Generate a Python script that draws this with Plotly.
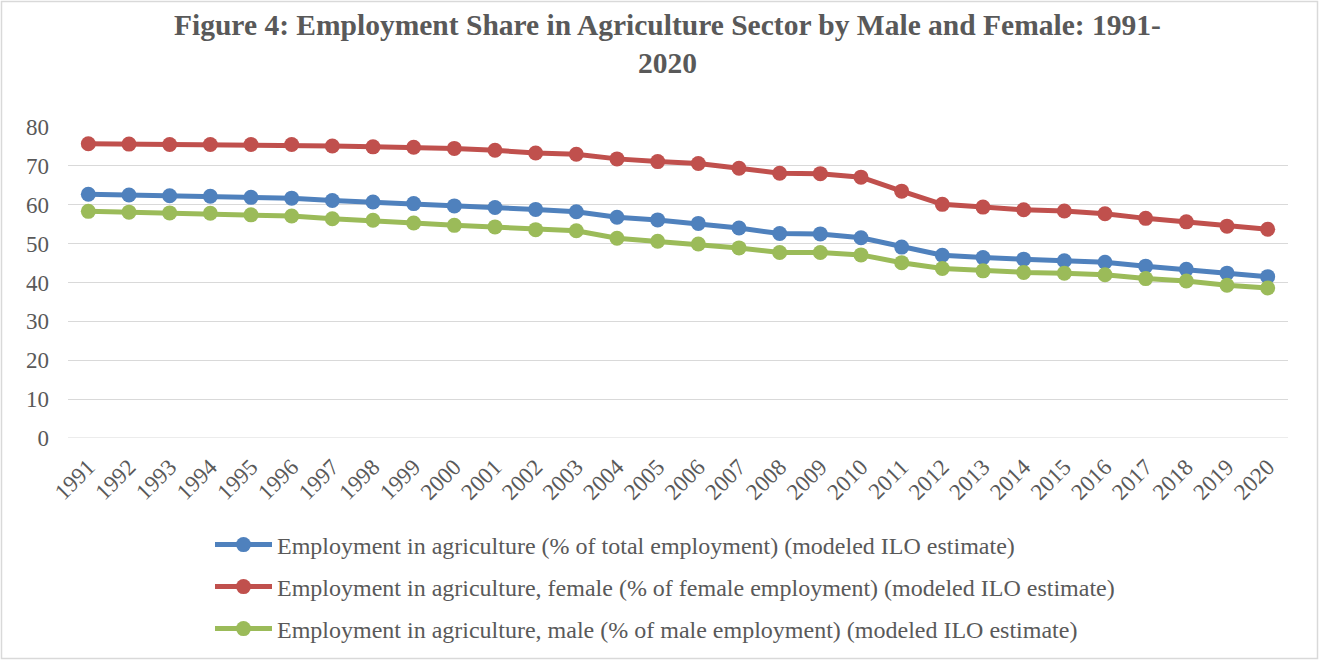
import plotly.graph_objects as go

years = [str(y) for y in range(1991, 2021)]
total = [62.7, 62.5, 62.3, 62.2, 61.9, 61.7, 61.1, 60.7, 60.3, 59.7, 59.3, 58.8, 58.2, 56.8, 56.1,
         55.2, 54.0, 52.6, 52.5, 51.5, 49.1, 47.0, 46.4, 46.0, 45.6, 45.2, 44.2, 43.4, 42.4, 41.5]
female = [75.7, 75.6, 75.5, 75.5, 75.5, 75.5, 75.1, 74.9, 74.8, 74.5, 74.0, 73.3, 73.0, 71.8, 71.1,
          70.6, 69.4, 68.1, 68.0, 67.1, 63.5, 60.1, 59.4, 58.7, 58.4, 57.7, 56.5, 55.6, 54.5, 53.7]
male = [58.3, 58.1, 57.9, 57.8, 57.4, 57.1, 56.4, 56.0, 55.3, 54.7, 54.3, 53.6, 53.3, 51.4, 50.6,
        49.9, 48.9, 47.7, 47.7, 47.1, 45.1, 43.6, 43.0, 42.6, 42.4, 42.0, 41.0, 40.4, 39.3, 38.6]
names = ["Employment in agriculture (% of total employment) (modeled ILO estimate)",
         "Employment in agriculture, female (% of female employment) (modeled ILO estimate)",
         "Employment in agriculture, male (% of male employment) (modeled ILO estimate)"]
colors = ["#4F81BD", "#C0504D", "#9BBB59"]
y_ticks = [0, 10, 20, 30, 40, 50, 60, 70, 80]

W, H = 1319, 660
L, R, T, B = 68, 31, 127, 222
pw, ph = W - L - R, H - T - B

def px_x(x):
    return (x - L) / pw

def px_y(y):
    return (H - B - y) / ph

fig = go.Figure()
legend_names = ["legend", "legend2", "legend3"]
legend_rows = [545, 587, 629]
for i, (vals, nm, col) in enumerate(zip([total, female, male], names, colors)):
    fig.add_trace(go.Scatter(
        x=years, y=vals, name=nm, mode="lines+markers",
        line=dict(color=col, width=5),
        marker=dict(color=col, size=15),
        legend=legend_names[i],
    ))

font_family = "Liberation Serif"
legend_common = dict(
    orientation="v", xanchor="left", yanchor="middle",
    font=dict(family=font_family, size=24, color="#595959"),
    bgcolor="rgba(0,0,0,0)", itemwidth=57, borderwidth=0,
)
layout_legends = {}
for ln, row in zip(legend_names, legend_rows):
    layout_legends[ln] = dict(legend_common, x=px_x(210), y=px_y(row))

fig.update_layout(
    width=W, height=H,
    margin=dict(l=L, r=R, t=T, b=B, autoexpand=False),
    paper_bgcolor="white", plot_bgcolor="white",
    font=dict(family=font_family, color="#595959"),
    title=dict(
        text="<b>Figure 4: Employment Share in Agriculture Sector by Male and Female: 1991-<br>2020</b>",
        x=0.506, xanchor="center", xref="container",
        y=1 - 34.5 / H, yanchor="middle", yref="container",
        font=dict(family=font_family, size=29.5, color="#595959"),
    ),
    xaxis=dict(
        type="category", range=[-0.5, 29.5], tickangle=-45,
        showgrid=False, showline=False, ticks="", ticklabelstandoff=10,
        tickfont=dict(family=font_family, size=23, color="#595959"),
    ),
    yaxis=dict(
        range=[0, 80], tickvals=y_ticks, showgrid=True, gridcolor="#D9D9D9", gridwidth=1,
        zeroline=False, showline=False, ticks="", ticklabelstandoff=18,
        tickfont=dict(family=font_family, size=23, color="#595959"),
    ),
    showlegend=True,
    **layout_legends,
    shapes=[dict(
        type="line", xref="paper", yref="y", x0=0, x1=1, y0=0, y1=0,
        line=dict(color="#D9D9D9", width=1), layer="below",
    ), dict(
        type="rect", xref="paper", yref="paper",
        x0=px_x(1.5), x1=px_x(1317.5), y0=px_y(658.5), y1=px_y(1.5),
        line=dict(color="#D9D9D9", width=1.5), fillcolor="rgba(0,0,0,0)",
    )],
)

fig.write_html("out.html")
